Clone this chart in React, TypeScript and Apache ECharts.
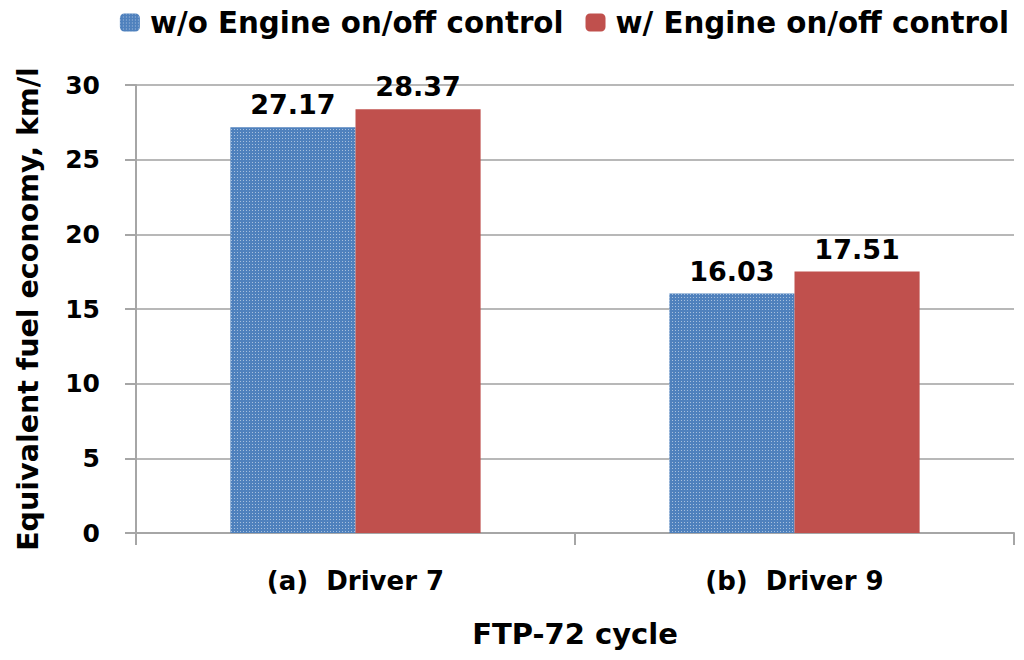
import React, { useEffect, useRef } from "react";
import * as echarts from "echarts";

const categories = ["(a)  Driver 7", "(b)  Driver 9"];
const withoutControl = [27.17, 16.03];
const withControl = [28.37, 17.51];
const seriesNames = ["w/o Engine on/off control", "w/ Engine on/off control"];
const yTicks = { min: 0, max: 30, interval: 5 };

const FONT = "'DejaVu Sans', 'Noto Sans', sans-serif";

export default function App() {
  const ref = useRef<HTMLDivElement>(null);
  useEffect(() => {
    if (!ref.current) return;
    const chart = echarts.init(ref.current, null, { renderer: "svg" });
    const labelStyle = {
      show: true,
      position: "top",
      distance: 9,
      fontFamily: FONT,
      fontWeight: "bold",
      fontSize: 27,
      color: "#000",
      formatter: (p: any) => p.value.toFixed(2),
    };
    chart.setOption({
      animation: false,
      textStyle: { fontFamily: FONT },
      legend: {
        top: 3,
        right: 10,
        itemWidth: 20,
        itemHeight: 18,
        itemGap: 22,
        textStyle: { fontFamily: FONT, fontWeight: "bold", fontSize: 29.3, color: "#000", padding: [0, 0, 0, 5] },
        data: seriesNames,
      },
      grid: { left: 136, right: 10, top: 85, bottom: 127, containLabel: false },
      xAxis: {
        type: "category",
        data: categories,
        axisLine: { show: true, lineStyle: { color: "#A6A6A6", width: 2 } },
        axisTick: { show: true, length: 12, alignWithLabel: false, lineStyle: { color: "#A6A6A6", width: 2 } },
        axisLabel: { fontFamily: FONT, fontWeight: "bold", fontSize: 26, color: "#000", margin: 35 },
        name: "FTP-72 cycle",
        nameLocation: "middle",
        nameGap: 86,
        nameTextStyle: { fontFamily: FONT, fontWeight: "bold", fontSize: 29, color: "#000" },
      },
      yAxis: {
        type: "value",
        min: yTicks.min,
        max: yTicks.max,
        interval: yTicks.interval,
        axisLine: { show: true, lineStyle: { color: "#A6A6A6", width: 2 } },
        axisTick: { show: true, length: 11, lineStyle: { color: "#A6A6A6", width: 2 } },
        splitLine: { show: true, lineStyle: { color: "#B8B8B8", width: 2 } },
        axisLabel: { fontFamily: FONT, fontWeight: "bold", fontSize: 25, color: "#000", margin: 36 },
        name: "Equivalent fuel economy, km/l",
        nameLocation: "middle",
        nameGap: 93,
        nameTextStyle: { fontFamily: FONT, fontWeight: "bold", fontSize: 28.5, color: "#000" },
      },
      series: [
        {
          name: seriesNames[0],
          type: "bar",
          data: withoutControl,
          barGap: "0%",
          barCategoryGap: "43%",
          itemStyle: {
            color: "#4F81BD",
            decal: {
              symbol: "rect",
              symbolSize: 1,
              dashArrayX: [1, 2],
              dashArrayY: [1, 2],
              color: "rgba(255,255,255,0.5)",
            },
          },
          label: labelStyle,
        },
        {
          name: seriesNames[1],
          type: "bar",
          data: withControl,
          barGap: "0%",
          barCategoryGap: "43%",
          itemStyle: { color: "#C0504D" },
          label: labelStyle,
        },
      ],
    });
    return () => chart.dispose();
  }, []);
  return <div ref={ref} style={{ width: 1024, height: 660, position: "absolute", left: 0, top: 0 }} />;
}
